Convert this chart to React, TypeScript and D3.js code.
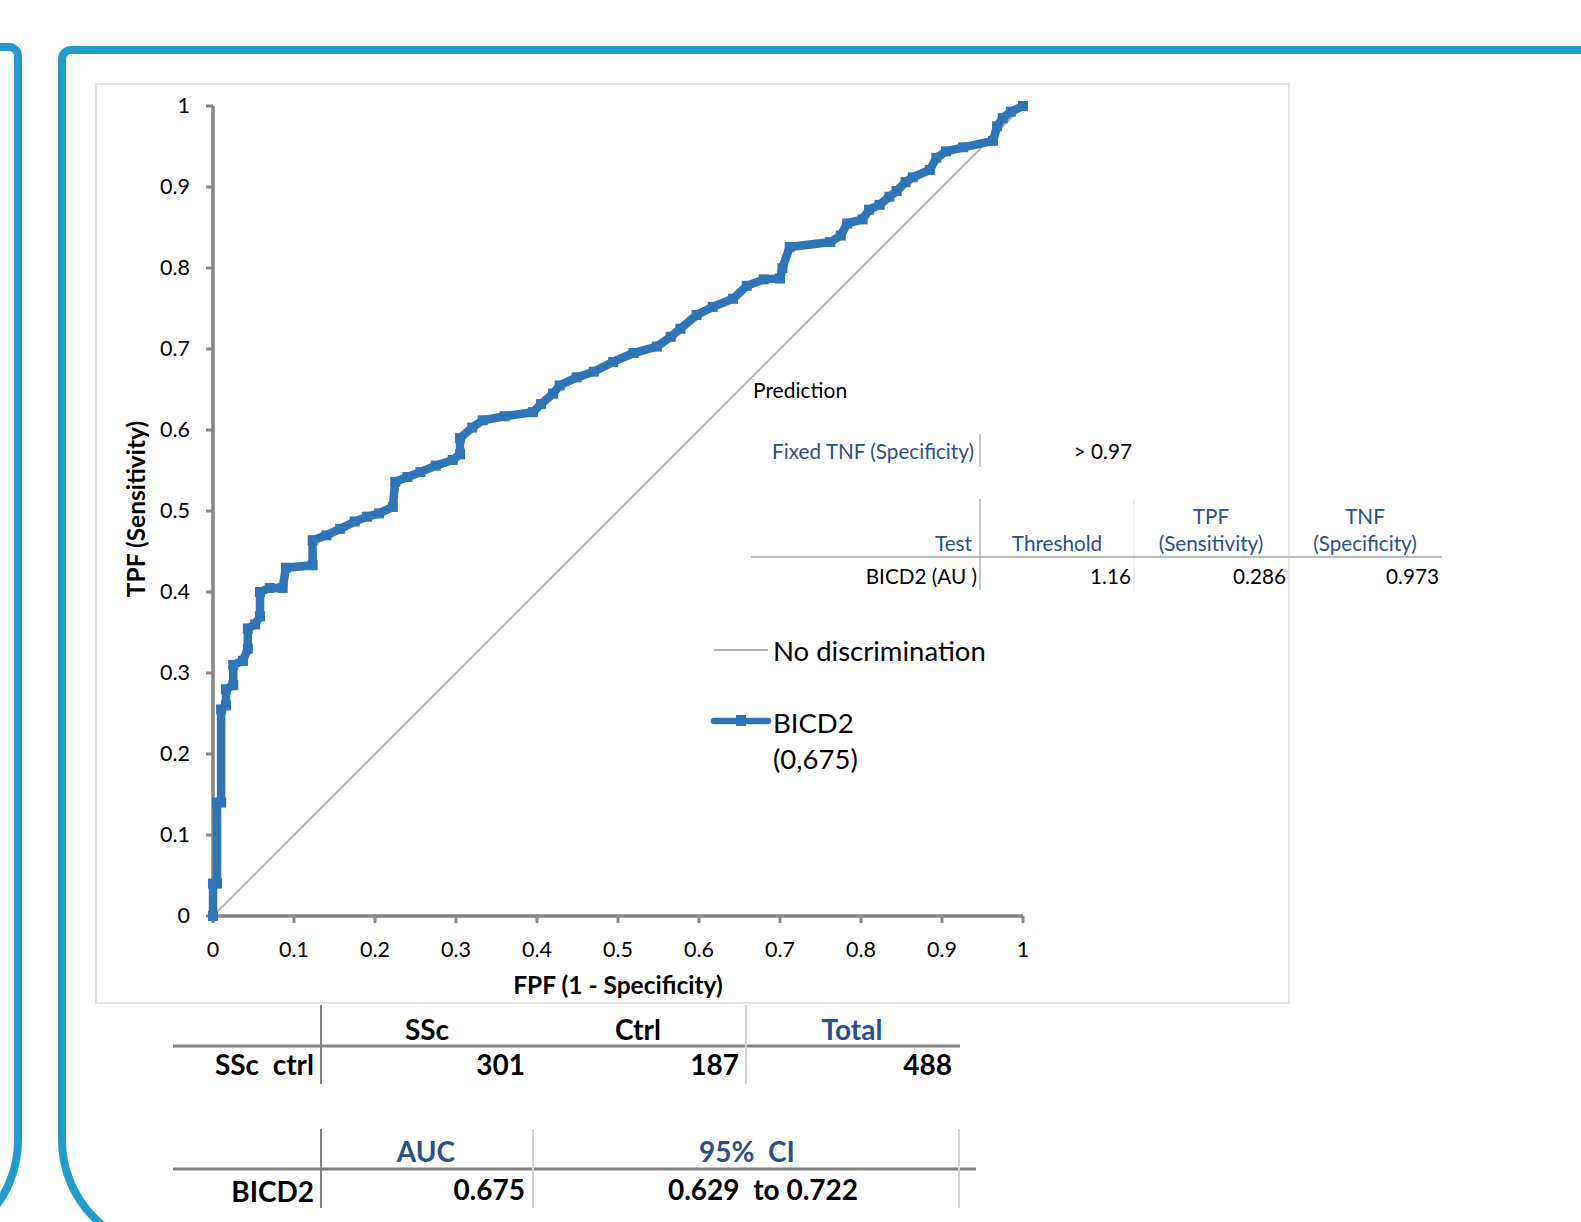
import React, { useEffect } from 'react';
import { scaleLinear, line } from 'd3';

// ROC curve points
const fpf = [0, 0, 0.005, 0.005, 0.01, 0.01, 0.016, 0.016, 0.025, 0.025, 0.037, 0.043, 0.043, 0.052, 0.058, 0.058,
  0.07, 0.086, 0.09, 0.123, 0.123, 0.14, 0.157, 0.175, 0.19, 0.205, 0.222, 0.225, 0.24, 0.256, 0.275, 0.296, 0.305,
  0.305, 0.32, 0.333, 0.36, 0.395, 0.405, 0.42, 0.428, 0.449, 0.47, 0.494, 0.519, 0.548, 0.565, 0.577, 0.597, 0.617,
  0.642, 0.659, 0.68, 0.7, 0.703, 0.712, 0.762, 0.775, 0.783, 0.802, 0.81, 0.823, 0.835, 0.844, 0.855, 0.864, 0.885,
  0.893, 0.905, 0.926, 0.963, 0.968, 0.975, 0.985, 1];
const tpf = [0, 0.04, 0.04, 0.14, 0.14, 0.255, 0.26, 0.28, 0.285, 0.31, 0.315, 0.33, 0.355, 0.36, 0.37, 0.4,
  0.405, 0.405, 0.43, 0.433, 0.464, 0.47, 0.478, 0.487, 0.493, 0.497, 0.505, 0.536, 0.542, 0.548, 0.556, 0.563, 0.57,
  0.59, 0.603, 0.612, 0.617, 0.622, 0.632, 0.645, 0.655, 0.665, 0.672, 0.684, 0.695, 0.703, 0.715, 0.725, 0.742, 0.752,
  0.762, 0.778, 0.786, 0.787, 0.8, 0.826, 0.832, 0.84, 0.855, 0.86, 0.872, 0.878, 0.888, 0.895, 0.906, 0.912, 0.921,
  0.936, 0.944, 0.949, 0.957, 0.975, 0.985, 0.993, 1];

const ticks = [0, 0.1, 0.2, 0.3, 0.4, 0.5, 0.6, 0.7, 0.8, 0.9, 1];

const predHeader = ['Test', 'Threshold', 'TPF', 'TNF'];
const predHeader2 = ['', '', '(Sensitivity)', '(Specificity)'];
const predRow = ['BICD2 (AU )', '1.16', '0.286', '0.973'];

const countHeader = ['SSc', 'Ctrl', 'Total'];
const countRow = ['SSc  ctrl', '301', '187', '488'];
const aucHeader = ['AUC', '95%  CI'];
const aucRow = ['BICD2', '0.675', '0.629  to 0.722'];

const FONT = 'Lato, "Open Sans", sans-serif';
const BLUE_T = '#2b4f8a';
const CURVE = '#2e74b6';

export default function App() {
  useEffect(() => {
    document.body.style.margin = '0';
  }, []);

  const x = scaleLinear().domain([0, 1]).range([213, 1023]);
  const y = scaleLinear().domain([0, 1]).range([916, 106]);
  const pts = fpf.map((d, i) => [d, tpf[i]] as [number, number]);
  const path = line<[number, number]>().x((d) => x(d[0])).y((d) => y(d[1]))(pts);

  return (
    <svg width={1581} height={1222} style={{ display: 'block', fontFamily: FONT }}>
      <rect width={1581} height={1222} fill="#fff" />
      {/* slide frames */}
      <path d="M -10 47 H 9 A 9 9 0 0 1 18 56 V 1140 A 110 110 0 0 1 -92 1250" fill="none" stroke="#239bcb" strokeWidth={8} />
      <path d="M 1600 50 H 71 A 9 9 0 0 0 62 59 V 1140 A 110 110 0 0 0 172 1250" fill="none" stroke="#239bcb" strokeWidth={8} />

      {/* chart frame */}
      <rect x={96} y={84} width={1193} height={919} fill="none" stroke="#e3e3e3" strokeWidth={2} />

      {/* diagonal */}
      <line x1={x(0)} y1={y(0)} x2={x(1)} y2={y(1)} stroke="#b3b3b3" strokeWidth={2} />

      {/* axes */}
      <line x1={x(0)} y1={y(0)} x2={x(1)} y2={y(0)} stroke="#868686" strokeWidth={3.5} />
      <line x1={x(0)} y1={y(0)} x2={x(0)} y2={y(1)} stroke="#868686" strokeWidth={3.5} />
      {ticks.map((t) => (
        <g key={'x' + t}>
          <line x1={x(t)} x2={x(t)} y1={y(0)} y2={y(0) + 7} stroke="#868686" strokeWidth={3} />
          <text x={x(t)} y={y(0) + 33} textAnchor="middle" dominantBaseline="central" fontSize={21.5}>{String(+t.toFixed(1))}</text>
        </g>
      ))}
      {ticks.map((t) => (
        <g key={'y' + t}>
          <line x1={x(0) - 7} x2={x(0)} y1={y(t)} y2={y(t)} stroke="#868686" strokeWidth={3} />
          <text x={190} y={y(t) - 1} textAnchor="end" dominantBaseline="central" fontSize={21.5}>{String(+t.toFixed(1))}</text>
        </g>
      ))}
      <text x={618} y={984} textAnchor="middle" dominantBaseline="central" fontSize={24.5} fontWeight="bold">FPF (1 - Specificity)</text>
      <text transform="translate(135,509) rotate(-90)" textAnchor="middle" dominantBaseline="central" fontSize={24.5} fontWeight="bold">TPF (Sensitivity)</text>

      {/* ROC curve */}
      <path d={path || ''} fill="none" stroke={CURVE} strokeWidth={8.5} strokeLinejoin="miter" />
      {pts.map((d, i) => (
        <rect key={i} x={x(d[0]) - 5} y={y(d[1]) - 5} width={10} height={10} fill={CURVE} />
      ))}

      {/* prediction table */}
      <text x={753} y={389} dominantBaseline="central" fontSize={21}>Prediction</text>
      <text x={974} y={451} textAnchor="end" dominantBaseline="central" fontSize={20.7} fill={BLUE_T}>Fixed TNF (Specificity)</text>
      <line x1={980} x2={980} y1={434} y2={467} stroke="#8a8a8a" strokeWidth={1} />
      <text x={1132} y={451} textAnchor="end" dominantBaseline="central" fontSize={20.7}>{'> 0.97'}</text>

      <line x1={980} x2={980} y1={499} y2={590} stroke="#8a8a8a" strokeWidth={1} />
      <line x1={1134} x2={1134} y1={499} y2={592} stroke="#e0e0e0" strokeWidth={1} />
      <line x1={751} x2={1442} y1={557} y2={557} stroke="#a6a6a6" strokeWidth={1.5} />
      {predHeader.map((h, i) => {
        const xs = [972, 1057, 1211, 1365];
        const anchor = i === 0 ? 'end' : 'middle';
        return (
          <g key={h}>
            <text x={xs[i]} y={predHeader2[i] ? 516 : 543} textAnchor={anchor} dominantBaseline="central" fontSize={20.7} fill={BLUE_T}>{h}</text>
            {predHeader2[i] && (
              <text x={xs[i]} y={543} textAnchor="middle" dominantBaseline="central" fontSize={20.7} fill={BLUE_T}>{predHeader2[i]}</text>
            )}
          </g>
        );
      })}
      {predRow.map((v, i) => {
        const xs = [977, 1131, 1286, 1439];
        return <text key={i} x={xs[i]} y={576} textAnchor="end" dominantBaseline="central" fontSize={20.7}>{v}</text>;
      })}

      {/* legend */}
      <line x1={714} x2={768} y1={650} y2={650} stroke="#b3b3b3" strokeWidth={2} />
      <text x={773} y={650} dominantBaseline="central" fontSize={27.5}>No discrimination</text>
      <line x1={714} x2={768} y1={721} y2={721} stroke={CURVE} strokeWidth={6.5} strokeLinecap="round" />
      <rect x={736} y={715} width={10} height={11} fill={CURVE} />
      <text x={773} y={722} dominantBaseline="central" fontSize={27.5}>BICD2</text>
      <text x={773} y={758} dominantBaseline="central" fontSize={27.5}>(0,675)</text>

      {/* counts table */}
      <line x1={173} x2={960} y1={1046} y2={1046} stroke="#808080" strokeWidth={3} />
      <line x1={321} x2={321} y1={1005} y2={1084} stroke="#808080" strokeWidth={2} />
      <line x1={746} x2={746} y1={1005} y2={1084} stroke="#d4d4d4" strokeWidth={2} />
      {countHeader.map((h, i) => {
        const xs = [427, 638, 852];
        return <text key={h} x={xs[i]} y={1029} textAnchor="middle" dominantBaseline="central" fontSize={28} fontWeight="bold" fill={i === 2 ? BLUE_T : '#000'}>{h}</text>;
      })}
      {countRow.map((v, i) => {
        const xs = [314, 525, 739, 952];
        return <text key={i} x={xs[i]} y={1064} textAnchor="end" dominantBaseline="central" fontSize={28} fontWeight="bold" style={{ whiteSpace: 'pre' }}>{v}</text>;
      })}

      {/* AUC table */}
      <line x1={173} x2={976} y1={1169} y2={1169} stroke="#808080" strokeWidth={3} />
      <line x1={321} x2={321} y1={1129} y2={1208} stroke="#808080" strokeWidth={2} />
      <line x1={533} x2={533} y1={1129} y2={1208} stroke="#d4d4d4" strokeWidth={2} />
      <line x1={959} x2={959} y1={1129} y2={1208} stroke="#d4d4d4" strokeWidth={2} />
      {aucHeader.map((h, i) => {
        const xs = [426, 747];
        return <text key={h} x={xs[i]} y={1151} textAnchor="middle" dominantBaseline="central" fontSize={28} fontWeight="bold" fill={BLUE_T} style={{ whiteSpace: 'pre' }}>{h}</text>;
      })}
      <text x={314} y={1191} textAnchor="end" dominantBaseline="central" fontSize={28} fontWeight="bold">{aucRow[0]}</text>
      <text x={525} y={1189} textAnchor="end" dominantBaseline="central" fontSize={28} fontWeight="bold">{aucRow[1]}</text>
      <text x={763} y={1189} textAnchor="middle" dominantBaseline="central" fontSize={28} fontWeight="bold" style={{ whiteSpace: 'pre' }}>{aucRow[2]}</text>
    </svg>
  );
}
